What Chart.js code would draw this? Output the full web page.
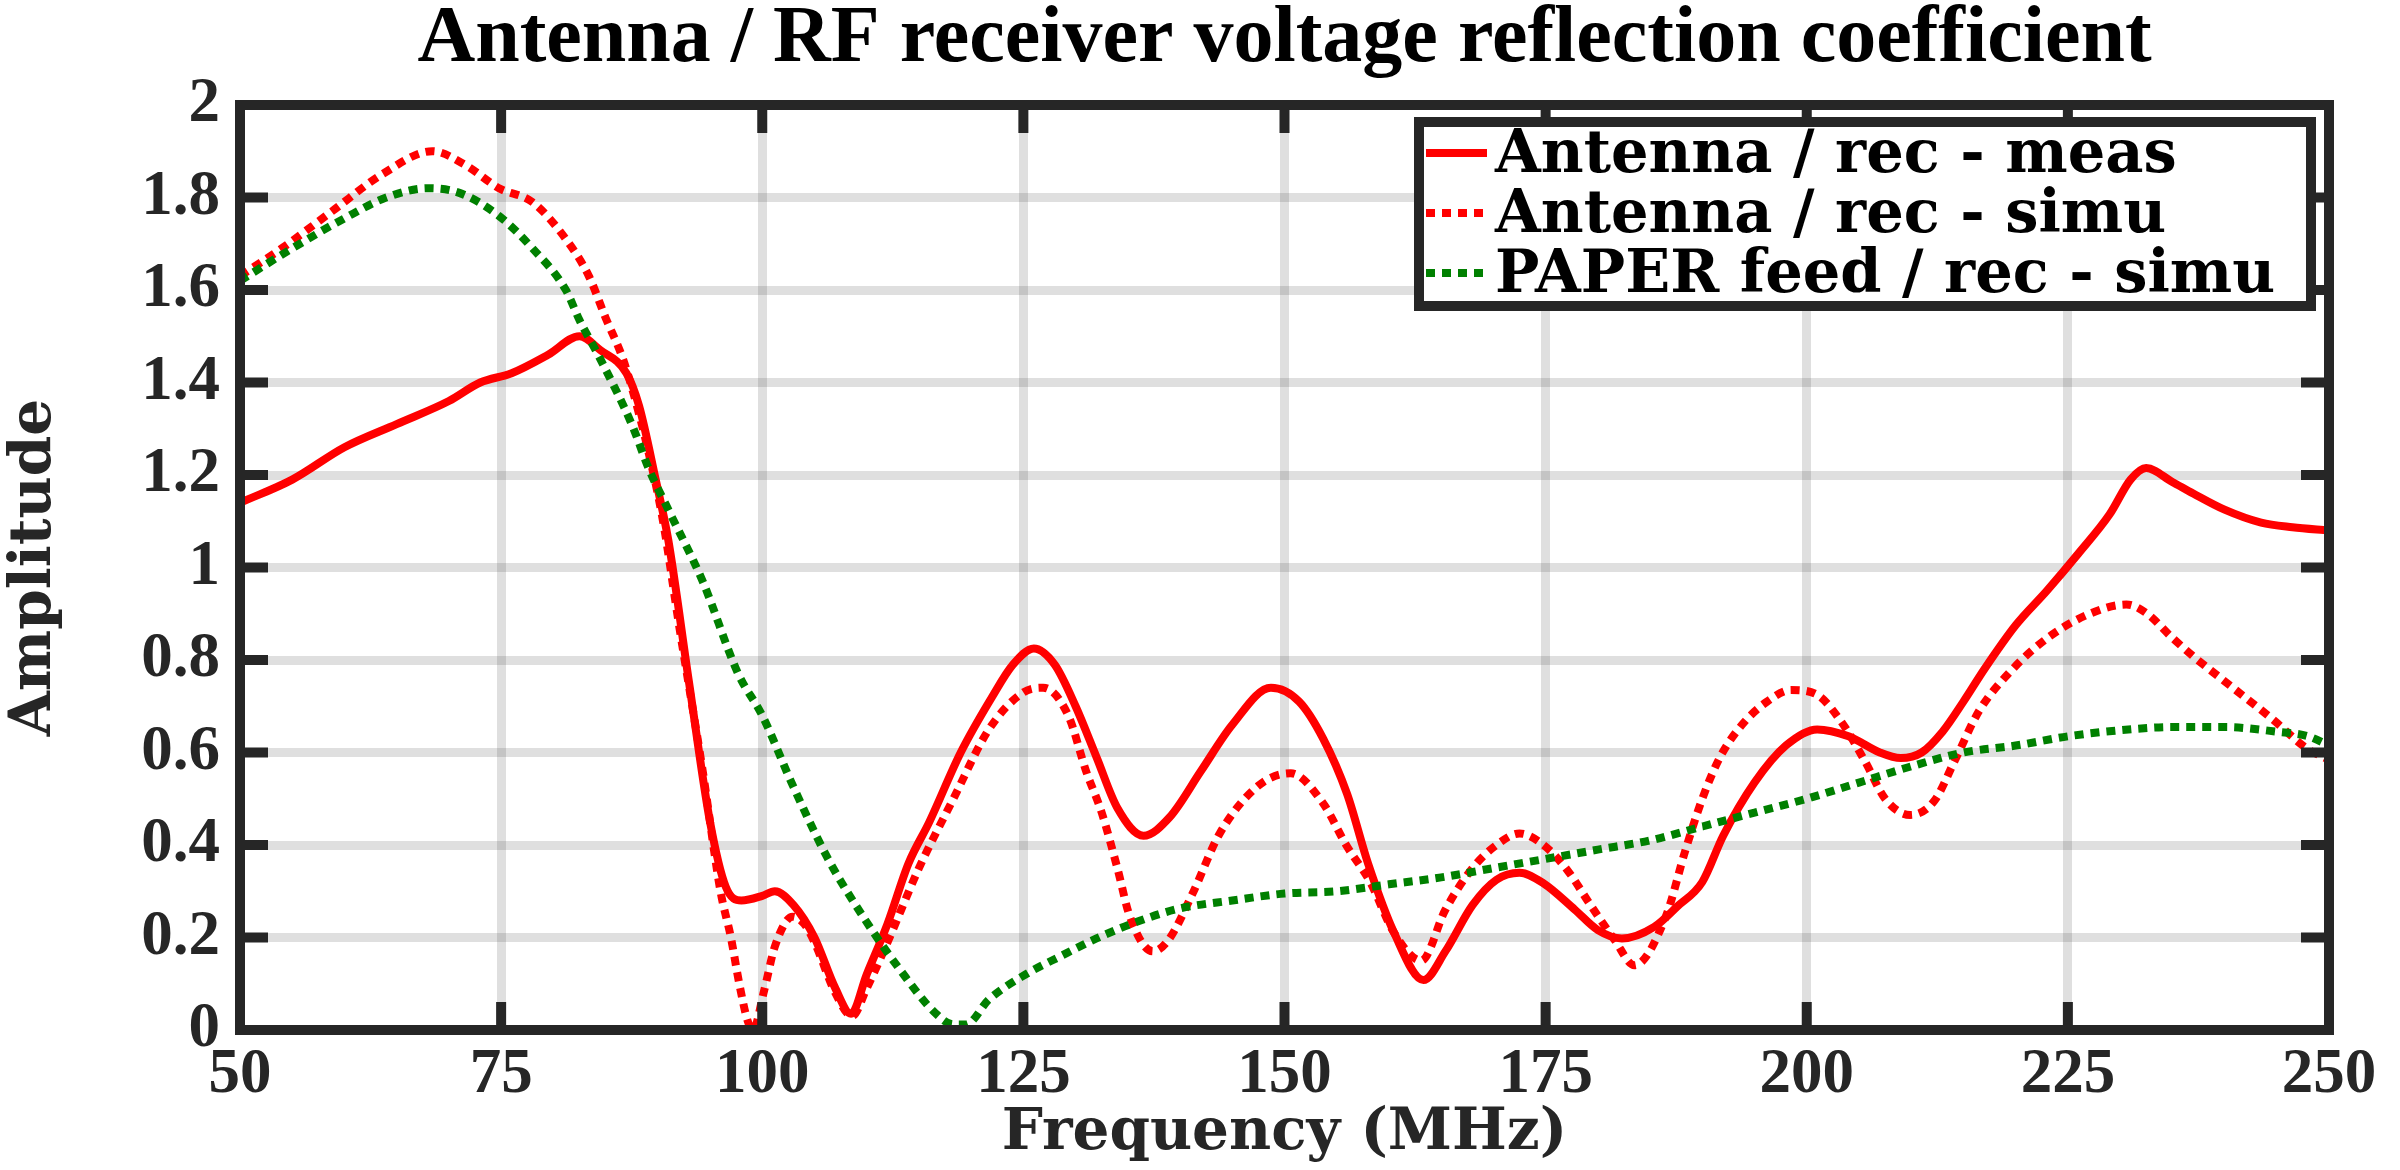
<!DOCTYPE html>
<html>
<head>
<meta charset="utf-8">
<script src="https://cdn.jsdelivr.net/npm/chart.js@4.4.1/dist/chart.umd.min.js"></script>
<style>
  html, body { margin: 0; padding: 0; background: #fff; }
</style>
</head>
<body>
<canvas id="chart" width="2400" height="1170"></canvas>
<script>
// measured antenna / receiver
const measFreq = [50, 55, 60, 65, 70, 73, 76, 79.5, 82.5, 84.5, 87, 88.2, 89.8, 91, 93, 95, 96.5, 98, 100, 101.2,
  103, 105, 107, 108.5, 110, 112, 114, 116, 119, 122, 124, 126, 128, 130, 132, 134, 136.5, 139, 142, 145,
  148.7, 151.4, 153.7, 156, 158, 160.5, 163.3, 165.4, 168, 170.3, 172.5, 174.8, 177.8, 180, 182.3, 185.4, 187.6, 190, 192, 195,
  198, 201, 204, 207, 209, 211, 213, 215, 217, 220, 223, 226, 229, 231, 232.5, 235, 237, 240, 243.5, 246.5, 250];
const measAmp = [1.14, 1.19, 1.26, 1.31, 1.36, 1.40, 1.42, 1.46, 1.50, 1.47, 1.42, 1.35, 1.19, 1.06, 0.75, 0.45, 0.31, 0.28, 0.29, 0.30,
  0.27, 0.20, 0.09, 0.035, 0.12, 0.23, 0.36, 0.45, 0.60, 0.72, 0.79, 0.825, 0.79, 0.70, 0.59, 0.48, 0.42, 0.46, 0.56, 0.66,
  0.74, 0.71, 0.63, 0.51, 0.36, 0.21, 0.108, 0.17, 0.27, 0.325, 0.34, 0.317, 0.26, 0.216, 0.198, 0.223, 0.267, 0.32, 0.42, 0.535,
  0.615, 0.65, 0.635, 0.60, 0.588, 0.60, 0.645, 0.71, 0.78, 0.875, 0.95, 1.03, 1.115, 1.19, 1.215, 1.185, 1.16, 1.125, 1.097, 1.087, 1.08];

// simulated antenna / receiver
const simuFreq = [50, 54, 58.8, 63.6, 68.4, 71.6, 74.8, 78, 81.2, 83.4, 85, 86.6, 87.5, 89, 90.5, 92, 94.3, 96, 97, 97.8,
  98.6, 99.1, 100.2, 101.2, 102.9, 104, 105, 107, 108.6, 110, 112, 115, 118.3, 121.7, 125, 126.9, 129.3, 131, 132.5, 134,
  135.2, 137.4, 138.9, 141.2, 143.8, 147.6, 150.6, 153.7, 155.9, 158.2, 160.5, 163.1, 165.4, 168, 170.3, 172.5, 174.8, 177.1, 179.3, 181.6,
  183.5, 186.5, 188.4, 190, 191.7, 193.8, 196.2, 198.5, 200.9, 203.2, 205.6, 207.5, 209.9, 212.2, 214.2, 216.5, 219.7, 223.2, 227.1, 230.6,
  232.6, 234.9, 236.9, 240.8, 244.7, 247.8, 250];
const simuAmp = [1.63, 1.69, 1.77, 1.85, 1.90, 1.87, 1.82, 1.79, 1.71, 1.63, 1.54, 1.455, 1.39, 1.26, 1.10, 0.88, 0.56, 0.30, 0.20, 0.10,
  0.02, 0.0, 0.087, 0.18, 0.245, 0.23, 0.19, 0.08, 0.03, 0.09, 0.19, 0.35, 0.50, 0.65, 0.73, 0.74, 0.68, 0.56, 0.47, 0.35,
  0.245, 0.17, 0.195, 0.295, 0.425, 0.53, 0.555, 0.49, 0.40, 0.32, 0.21, 0.15, 0.26, 0.35, 0.40, 0.425, 0.40, 0.345, 0.27, 0.195,
  0.14, 0.245, 0.39, 0.50, 0.59, 0.66, 0.71, 0.735, 0.726, 0.67, 0.58, 0.50, 0.465, 0.495, 0.584, 0.69, 0.78, 0.85, 0.90, 0.92,
  0.90, 0.85, 0.81, 0.74, 0.67, 0.61, 0.584];

// simulated PAPER feed / receiver
const paperFreq = [50, 55, 60, 64, 68, 71, 74.8, 78, 81.2, 82.5, 84.4, 87.5, 89.2, 90.9, 94.3, 97.7, 100, 102.9, 106.3, 109.8,
  113.2, 116.6, 118.3, 119.5, 121.7, 125.2, 128.6, 132, 136, 140, 145, 150, 155, 160, 165, 170, 175, 180, 185, 190,
  195, 200, 205, 210, 215, 220, 225, 230, 235, 240, 245, 248, 250];
const paperAmp = [1.62, 1.69, 1.755, 1.80, 1.82, 1.81, 1.76, 1.69, 1.60, 1.535, 1.455, 1.31, 1.21, 1.13, 0.97, 0.77, 0.68, 0.53, 0.37, 0.24,
  0.13, 0.036, 0.012, 0.012, 0.066, 0.12, 0.16, 0.198, 0.235, 0.263, 0.28, 0.295, 0.30, 0.315, 0.33, 0.35, 0.37, 0.39, 0.41, 0.44,
  0.47, 0.50, 0.535, 0.57, 0.60, 0.615, 0.635, 0.648, 0.655, 0.655, 0.645, 0.635, 0.615];

const seriesLabels = ['Antenna / rec - meas', 'Antenna / rec - simu', 'PAPER feed / rec - simu'];
const titleText = 'Antenna / RF receiver voltage reflection coefficient';
const xLabel = 'Frequency (MHz)';
const yLabel = 'Amplitude';

const axisColor = '#262626';

function points(xs, ys) {
  return xs.map((x, i) => ({ x: x, y: ys[i] }));
}

// box + inward ticks, matlab style
const frame = {
  id: 'frame',
  afterDatasetsDraw(chart) {
    const { ctx, chartArea: a, scales } = chart;
    const tl = 28;
    ctx.save();
    ctx.strokeStyle = axisColor;
    ctx.lineWidth = 10;
    ctx.beginPath();
    scales.x.ticks.forEach(t => {
      const px = scales.x.getPixelForValue(t.value);
      ctx.moveTo(px, a.bottom); ctx.lineTo(px, a.bottom - tl);
      ctx.moveTo(px, a.top); ctx.lineTo(px, a.top + tl);
    });
    scales.y.ticks.forEach(t => {
      const py = scales.y.getPixelForValue(t.value);
      ctx.moveTo(a.left, py); ctx.lineTo(a.left + tl, py);
      ctx.moveTo(a.right, py); ctx.lineTo(a.right - tl, py);
    });
    ctx.stroke();
    ctx.lineJoin = 'miter';
    ctx.strokeRect(a.left, a.top, a.right - a.left, a.bottom - a.top);
    ctx.restore();
  }
};

const boxLegend = {
  id: 'boxLegend',
  afterDraw(chart) {
    const { ctx, chartArea: a } = chart;
    const left = a.right - 910, top = a.top + 17;
    const w = 892, h = 184;
    ctx.save();
    ctx.fillStyle = '#fff';
    ctx.fillRect(left, top, w, h);
    ctx.strokeStyle = axisColor;
    ctx.lineWidth = 10;
    ctx.strokeRect(left, top, w, h);
    ctx.font = 'bold 59px "DejaVu Serif"';
    ctx.textBaseline = 'alphabetic';
    chart.data.datasets.forEach((ds, i) => {
      const y = top + 31 + i * 60;
      ctx.strokeStyle = ds.borderColor;
      ctx.lineWidth = ds.borderWidth;
      ctx.setLineDash(ds.borderDash || []);
      ctx.beginPath();
      ctx.moveTo(left + 7, y);
      ctx.lineTo(left + 68, y);
      ctx.stroke();
      ctx.setLineDash([]);
      ctx.fillStyle = '#000';
      ctx.fillText(ds.label, left + 76, y + 19);
    });
    ctx.restore();
  }
};

new Chart(document.getElementById('chart'), {
  type: 'line',
  data: {
    datasets: [
      { label: seriesLabels[0], data: points(measFreq, measAmp), borderColor: '#ff0000', borderWidth: 8, borderDash: [], order: 3 },
      { label: seriesLabels[1], data: points(simuFreq, simuAmp), borderColor: '#ff0000', borderWidth: 8, borderDash: [9, 7], order: 2 },
      { label: seriesLabels[2], data: points(paperFreq, paperAmp), borderColor: '#008000', borderWidth: 8, borderDash: [9, 7], order: 1 }
    ]
  },
  options: {
    responsive: false,
    animation: false,
    events: [],
    elements: {
      point: { radius: 0 },
      line: { cubicInterpolationMode: 'monotone', borderCapStyle: 'butt', borderJoinStyle: 'round', fill: false }
    },
    layout: { padding: { left: 0, right: 71, top: 0, bottom: 0 } },
    plugins: {
      legend: { display: false },
      tooltip: { enabled: false },
      title: {
        display: true,
        fullSize: false,
        text: titleText,
        color: '#000',
        font: { family: '"Liberation Serif"', size: 80, weight: 'bold', lineHeight: 1.0 },
        padding: { top: 0, bottom: 25 }
      }
    },
    scales: {
      x: {
        type: 'linear',
        min: 50,
        max: 250,
        ticks: {
          stepSize: 25,
          color: axisColor,
          padding: 8,
          maxRotation: 0,
          font: { family: '"Liberation Serif"', size: 63, weight: 'bold' }
        },
        grid: { color: 'rgba(38,38,38,0.15)', lineWidth: 9, drawTicks: false },
        border: { display: false },
        title: {
          display: true,
          text: xLabel,
          color: axisColor,
          font: { family: '"DejaVu Serif"', size: 58, weight: 'bold', lineHeight: 1.0 },
          padding: { top: 0, bottom: 7 }
        },
        afterFit(s) { s.height = 140; }
      },
      y: {
        min: 0,
        max: 2,
        ticks: {
          stepSize: 0.2,
          color: axisColor,
          padding: 20,
          font: { family: '"Liberation Serif"', size: 63, weight: 'bold' },
          callback: v => String(Number(v.toFixed(1)))
        },
        grid: { color: 'rgba(38,38,38,0.15)', lineWidth: 9, drawTicks: false },
        border: { display: false },
        title: {
          display: true,
          text: yLabel,
          color: axisColor,
          font: { family: '"DejaVu Serif"', size: 58, weight: 'bold', lineHeight: 1.0 },
          padding: { top: 6, bottom: 0 }
        },
        afterFit(s) { s.width = 240; }
      }
    }
  },
  plugins: [frame, boxLegend]
});
</script>
</body>
</html>
